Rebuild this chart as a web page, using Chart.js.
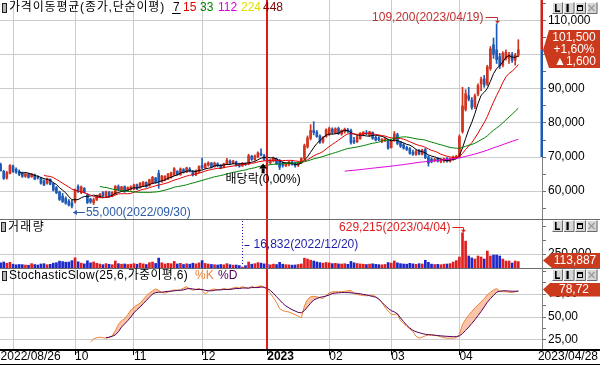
<!DOCTYPE html>
<html lang="ko"><head><meta charset="utf-8">
<script src="https://cdn.jsdelivr.net/npm/chart.js@4.4.1/dist/chart.umd.min.js"></script>
<style>
html,body{margin:0;padding:0;background:#fff;overflow:hidden}
#box{position:relative;width:600px;height:366px}
canvas{display:block}
</style></head><body>
<div id="box"><canvas id="cv" width="600" height="366"></canvas></div>
<script>
// ---------------- data ----------------
const dates = [
'2022/08/26','2022/08/29','2022/08/30','2022/08/31',
'2022/09/01','2022/09/02','2022/09/05','2022/09/06','2022/09/07','2022/09/08','2022/09/13','2022/09/14','2022/09/15','2022/09/16','2022/09/19','2022/09/20','2022/09/21','2022/09/22','2022/09/23','2022/09/26','2022/09/27','2022/09/28','2022/09/29','2022/09/30',
'2022/10/04','2022/10/05','2022/10/06','2022/10/07','2022/10/11','2022/10/12','2022/10/13','2022/10/14','2022/10/17','2022/10/18','2022/10/19','2022/10/20','2022/10/21','2022/10/24','2022/10/25','2022/10/26','2022/10/27','2022/10/28','2022/10/31',
'2022/11/01','2022/11/02','2022/11/03','2022/11/04','2022/11/07','2022/11/08','2022/11/09','2022/11/10','2022/11/11','2022/11/14','2022/11/15','2022/11/16','2022/11/17','2022/11/18','2022/11/21','2022/11/22','2022/11/23','2022/11/24','2022/11/25','2022/11/28','2022/11/29','2022/11/30',
'2022/12/01','2022/12/02','2022/12/05','2022/12/06','2022/12/07','2022/12/08','2022/12/09','2022/12/12','2022/12/13','2022/12/14','2022/12/15','2022/12/16','2022/12/19','2022/12/20','2022/12/21','2022/12/22','2022/12/23','2022/12/26','2022/12/27','2022/12/28','2022/12/29',
'2023/01/02','2023/01/03','2023/01/04','2023/01/05','2023/01/06','2023/01/09','2023/01/10','2023/01/11','2023/01/12','2023/01/13','2023/01/16','2023/01/17','2023/01/18','2023/01/19','2023/01/20','2023/01/25','2023/01/26','2023/01/27','2023/01/30','2023/01/31',
'2023/02/01','2023/02/02','2023/02/03','2023/02/06','2023/02/07','2023/02/08','2023/02/09','2023/02/10','2023/02/13','2023/02/14','2023/02/15','2023/02/16','2023/02/17','2023/02/20','2023/02/21','2023/02/22','2023/02/23','2023/02/24','2023/02/27','2023/02/28',
'2023/03/02','2023/03/03','2023/03/06','2023/03/07','2023/03/08','2023/03/09','2023/03/10','2023/03/13','2023/03/14','2023/03/15','2023/03/16','2023/03/17','2023/03/20','2023/03/21','2023/03/22','2023/03/23','2023/03/24','2023/03/27','2023/03/28','2023/03/29','2023/03/30','2023/03/31',
'2023/04/03','2023/04/04','2023/04/05','2023/04/06','2023/04/07','2023/04/10','2023/04/11','2023/04/12','2023/04/13','2023/04/14','2023/04/17','2023/04/18','2023/04/19','2023/04/20','2023/04/21','2023/04/24','2023/04/25','2023/04/26','2023/04/27','2023/04/28'];

const open = [
67800,65800,63800,65200,67400,66400,65800,65200,64300,65000,
64200,64800,64000,63700,63000,62300,63400,62200,61000,59700,
58500,57800,57000,56500,56800,61300,59500,60800,58800,57600,
56600,57400,58400,59500,58400,59600,58500,59200,61300,60300,
61300,60100,60500,60600,61800,61000,61500,62500,61600,62300,
63800,65200,62800,63300,63500,64000,64700,65800,64800,66300,
65600,66500,65800,64800,65600,67500,66800,67600,68200,67200,
68000,67600,67000,68000,68800,68300,68600,67800,67400,68000,
67900,70200,69200,70000,71000,70400,69200,68300,68800,69400,
69000,68000,67400,67800,68500,68200,67600,68300,69600,73000,
75500,77800,77300,76200,74500,76000,76600,78200,77000,78400,
76800,77500,78000,77800,74800,74500,75400,76800,77000,76400,
77200,75800,75600,74600,74800,75000,72800,75000,76600,74300,
73600,72800,72500,71400,70800,72000,70800,72200,70000,69400,
69000,69600,68600,69000,69600,68800,69300,69700,70000,77500,
84000,88000,86800,84800,88500,91500,93000,91500,96000,103000,
101500,99500,97000,99000,99000,100000,98500,100000];

const high = [
68200,66100,65800,67800,67600,66800,66200,65600,65300,65200,
65200,65000,64500,64000,63300,63800,63600,62400,61300,60000,
59300,58300,57500,57300,60600,61800,61500,61000,59200,57900,
57900,58800,59300,59800,60000,59900,59800,61600,61800,61400,
61500,61200,61500,62000,62000,62500,62800,62700,63500,64300,
64000,66100,64600,64500,65200,65600,66900,66000,66800,66600,
67000,66900,66000,66200,67400,69700,68200,68600,68400,68500,
68300,67800,68200,69600,69200,69000,68800,68200,68400,68300,
70800,70500,70600,71500,72400,70800,69800,69300,70000,69700,
69300,68600,68300,68700,68800,68400,68500,69800,73800,76200,
79500,80400,77800,76500,76000,78300,78800,78600,78600,78800,
78000,78500,78400,78200,75800,76300,77200,77500,77800,77600,
77400,76200,76000,75400,75600,75300,75000,77500,77000,74600,
74000,73200,72800,72000,72000,72200,72300,72500,70400,69800,
69600,69800,69500,69700,69800,69700,70300,70500,76500,90500,
89800,90500,87500,88500,91500,93500,94000,97000,102500,105000,
109200,100500,101000,101500,100800,100800,100500,104500];

const low = [
65800,63400,63500,65000,65500,65200,64500,64000,64000,63800,
64000,63300,63500,62000,61600,62000,61800,60000,59200,57200,
56600,56100,55600,55000,56500,59600,59200,59400,56300,56400,
56000,57200,58000,58300,58100,58100,58300,59000,60100,60000,
59600,59900,60200,60400,60400,60800,61300,61100,61400,62100,
62300,60800,62500,63000,63300,63800,64500,64600,64600,65300,
65400,65600,64400,64500,65400,66500,66600,67300,66800,67000,
67100,66500,66800,67800,67900,68000,67300,67000,67200,67500,
67700,69000,69000,69800,70300,69000,68000,68000,68600,67800,
66300,67000,67200,67400,67600,67000,67200,68100,69200,72600,
75000,76500,75800,74000,74100,75800,76300,76800,76800,76600,
76400,77000,77200,73800,73900,74200,75200,76200,76500,76000,
75200,74700,74800,74200,74500,72300,72600,74600,73600,72800,
72300,71900,70800,70500,70500,70600,70600,69500,67300,68300,
68600,68500,68300,68400,68500,68500,69000,69500,69800,77000,
83500,86500,84000,84200,88000,89500,90500,91000,95500,99000,
97500,96000,96500,98500,97500,97800,97000,99500];

const close = [
66000,63700,65400,67500,65700,65500,64800,64300,65000,64000,
65000,63500,63800,62300,61800,63600,62000,60300,59500,57500,
56900,56400,55900,55500,60300,59800,61200,59600,56600,56800,
57400,58600,59000,58500,59800,58300,59600,61400,60300,61200,
59800,61000,61300,61800,60600,62300,62600,61300,63300,64000,
62500,62800,64400,64300,65000,65400,66600,64800,66500,65600,
66800,65900,64700,65900,67200,66900,68000,68300,67000,68200,
67400,66800,68000,69000,68200,68800,67600,67300,68100,67800,
70400,69300,70300,71200,70600,69300,68400,69000,69600,68000,
67000,67600,68200,68500,67800,67500,68300,69600,73300,75600,
77800,77200,76000,74300,75800,78000,78400,77200,78300,76900,
77800,78200,77500,74200,74400,76000,77000,77300,76800,77400,
75500,75000,75100,75200,75300,72600,74600,76800,74000,73200,
72600,72200,71100,70800,71600,70900,72000,69800,68200,68600,
69300,68800,69200,69500,68700,69500,70000,70200,76000,85000,
88600,87000,84600,88000,91000,92800,91200,96500,101800,100200,
98600,96800,100500,100800,100200,98400,99900,101500];

const volume = [
93000,107000,83000,102000,68000,57000,63000,60000,53000,50000,
78000,62000,54000,72000,77000,59000,66000,87000,95000,123000,
114000,104000,107000,132000,182000,111000,87000,74000,129000,92000,
108000,83000,71000,60000,78000,66000,59000,125000,77000,68000,
72000,63000,69000,78000,66000,87000,74000,62000,95000,107000,
81000,177000,93000,71000,83000,77000,119000,72000,84000,63000,
75000,68000,86000,74000,92000,132000,81000,71000,63000,59000,
54000,62000,57000,78000,60000,50000,53000,44000,16832,41000,
107000,68000,77000,96000,87000,74000,65000,57000,69000,62000,
101000,68000,59000,56000,51000,54000,63000,72000,175000,160000,
140000,125000,108000,96000,87000,99000,92000,78000,83000,74000,
71000,77000,66000,117000,93000,80000,72000,68000,62000,69000,
75000,65000,60000,57000,63000,98000,87000,126000,92000,78000,
71000,68000,83000,74000,66000,77000,72000,138000,101000,69000,
62000,65000,59000,68000,71000,78000,107000,132000,196000,629215,
480000,214000,180000,160000,214000,196000,160000,304000,214000,232000,
232000,214000,160000,125000,125000,90000,125000,113887];

// StochasticSlow(25,6,WMA,6) lines (null before they start)
const stochK = [
null,null,null,null,null,null,null,null,null,null,
null,null,null,null,null,null,null,null,null,null,
null,null,null,null,null,null,null,null,null,23,
26,27.5,28,27.5,27,28,29.5,35,42,46,
48,52.5,57.5,60.5,63,65,69,73,76,78.5,
80.5,79,76.5,76,77,78.5,79.5,79,79.5,81.5,
83,80.5,79,80,81,79,75,78,80,80.5,
79.5,80,81,80,80.5,81.5,82.5,81.5,83,82,
81,83.5,82,83,84,82,79.5,76,71,66,
59,57,56,55.5,54,52.5,51,49,62,69,
72,72.5,72,71,70,73.5,76,77.5,77.5,77.5,
77.5,78,78.5,79,75.5,74.5,74,73.5,73,73.5,
74,72,69.5,66,60.5,56.5,53,52.5,53.5,46,
43,40,37,34,29,27,28,29.5,30.5,30.5,
30,29.5,28.5,27.5,27,27,27,27.5,31,42,
47.5,52,56,60,63,66.5,70,74,77,79.5,
81,78,77.5,77.5,77,76.5,77.5,78.72];
const stochD = [
null,null,null,null,null,null,null,null,null,null,
null,null,null,null,null,null,null,null,null,null,
null,null,null,null,null,null,null,null,null,null,
null,null,null,null,27.5,28,29,30.5,34,39,
42.5,46,50,54.5,58,61,64.5,68,71.5,75,
76.5,77,77,77.5,78,78,78.5,79,79,79.5,
80.5,81,80.5,80,80,80,79,78.5,78.5,79,
79.5,79.5,80,80,80,80.5,81,81,81.5,81.5,
81.5,82,82,82,82.5,82.5,81,79,75.7,72,
68.5,65,62,60,58,56.5,55,54.5,57,61,
65,68.5,70,71.4,72,72.8,74,75.5,76,76.3,
76.6,76.6,76.5,76.3,76,75.7,75.2,74.6,74,73.2,
72.3,71.6,69.5,66,62.5,59.5,57,55.5,53.5,49,
45,41,38,35.5,34,33,32,31.2,30.8,30.5,
30.2,29.8,29.5,29.2,29,28.8,28.6,28.6,29.5,32,
35.5,39,43,47,51.5,56,61,66,70,73.5,
77,78,78.5,78.5,78.2,78,78,78];

const maPeriods = [7, 15, 33, 112, 224, 448];
const tickIndex = [0, 4, 24, 43, 65, 86, 106, 126, 148];
const tickLabels = ['2022/08/26', '', '10', '11', '12', '2023', '02', '03', '04'];
const lastDateLabel = '2023/04/28';
const yearTick = 86;
const priceTicks = [55000,60000,65000,70000,75000,80000,85000,90000,95000,100000,105000,110000,115000];
const volumeTicks = [250000, 500000, 750000];
const volumeLabelTicks = [250000];
const stochTicks = [25, 37.5, 50, 62.5, 75, 87.5, 100];
const stochLabelTicks = [25, 50, 75];
const stochParams = [25, 6, 6];
const axisBandLow = 70000;
const exDividendDate = '2022/12/29';
const exDividendText = '배당락(0,00%)';

// ---------------- styles ----------------
const FONT = '12px "Liberation Sans", "DejaVu Sans", "Noto Sans CJK KR", sans-serif';
const maColors = ['#000000', '#e00000', '#008000', '#e000e0', '#e0e000', '#800000'];
const maLegendX = [173, 183, 200, 218, 241, 263];
const UP = '#d2321e', DN = '#1e5ab4', VUP = '#e01e1e', VDN = '#1e28c8';
const TAG = '#cc3a1e', GRID = '#cccccc', YEARLINE = '#e01818';
const KCOL = '#f08232', DCOL = '#50005a';

// ---------------- derived ----------------
const N = close.length;
const idx = close.map((_, i) => i);
const isUp = idx.map(i => close[i] >= open[i]);
function sma(n) {
  return idx.map(i => {
    if (i < n - 1) return null;
    let s = 0; for (let k = i - n + 1; k <= i; k++) s += close[k];
    return s / n;
  });
}
const fmt = v => Math.round(v).toString().replace(/\B(?=(\d{3})+(?!\d))/g, ',');
const pts = arr => arr.map((v, i) => ({x: i, y: v}));

const datasets = [];
datasets.push({type: 'bar', data: idx.map(i => ({x: i, y: [low[i], high[i]]})),
  backgroundColor: idx.map(i => isUp[i] ? UP : DN), barThickness: 1, grouped: false, yAxisID: 'yP', order: 20});
datasets.push({type: 'bar', data: idx.map(i => ({x: i, y: [Math.min(open[i], close[i]), Math.max(open[i], close[i])]})),
  backgroundColor: idx.map(i => isUp[i] ? UP : DN), barThickness: 2, minBarLength: 1, grouped: false, yAxisID: 'yP', order: 19});
maPeriods.forEach((p, k) => datasets.push({type: 'line', data: pts(sma(p)), borderColor: maColors[k], borderWidth: 1,
  pointRadius: 0, tension: 0, fill: false, yAxisID: 'yP', order: 10 - k}));
datasets.push({type: 'bar', data: idx.map(i => ({x: i, y: volume[i]})),
  backgroundColor: idx.map(i => isUp[i] ? VUP : VDN), barThickness: 2, grouped: false, yAxisID: 'yV', order: 18});
const dIndex = datasets.length + 1;
datasets.push({type: 'line', data: pts(stochK), borderColor: KCOL, borderWidth: 1, pointRadius: 0, tension: 0,
  fill: {target: dIndex, above: 'rgba(245,150,100,0.55)', below: 'rgba(0,0,0,0)'}, yAxisID: 'yS', order: 2});
datasets.push({type: 'line', data: pts(stochD), borderColor: DCOL, borderWidth: 1, pointRadius: 0, tension: 0,
  fill: false, yAxisID: 'yS', order: 1});

// ---------------- overlay drawing helpers ----------------
function txt(c, s, x, y, color, align, targetW) {
  c.font = FONT; c.fillStyle = color; c.textAlign = align || 'left'; c.textBaseline = 'middle';
  if (targetW && 'letterSpacing' in c) {
    const w0 = c.measureText(s).width;
    const ls = Math.max(0, (targetW - w0) / Math.max(1, s.length));
    c.letterSpacing = ls.toFixed(2) + 'px';
    c.fillText(s, x, y);
    const w = c.measureText(s).width;
    c.letterSpacing = '0px';
    return w;
  }
  c.fillText(s, x, y); return c.measureText(s).width;
}
function icon(c, x, y) {
  c.fillStyle = '#202020'; c.fillRect(x, y, 5, 10);
  c.fillStyle = '#b4b4b4'; c.fillRect(x + 1, y + 1, 3, 8);
}
function buttons(c, y) {
  for (let k = 0; k < 4; k++) {
    const x = 552 + k * 11.5;
    c.fillStyle = '#d6d6d6'; c.fillRect(x, y, 11, 12);
    c.lineWidth = 1;
    c.strokeStyle = '#ffffff'; c.beginPath(); c.moveTo(x + 0.5, y + 11.5); c.lineTo(x + 0.5, y + 0.5); c.lineTo(x + 10.5, y + 0.5); c.stroke();
    c.strokeStyle = '#6a6a6a'; c.beginPath(); c.moveTo(x + 10.5, y + 0.5); c.lineTo(x + 10.5, y + 11.5); c.lineTo(x + 0.5, y + 11.5); c.stroke();
  }
  c.fillStyle = '#000';
  c.fillRect(555, y + 2, 1.6, 8); c.fillRect(555, y + 8.4, 5, 1.6);
  c.fillRect(566.5, y + 2, 2.2, 8);
  c.strokeStyle = '#000'; c.strokeRect(577.5, y + 3.5, 5, 5); c.fillRect(577, y + 3, 6, 2);
  c.strokeStyle = '#9a9a9a'; c.lineWidth = 1.3; c.beginPath();
  c.moveTo(588.5, y + 3); c.lineTo(594.5, y + 9); c.moveTo(594.5, y + 3); c.lineTo(588.5, y + 9); c.stroke();
}
function tag(c, yc, top, bot, left) {
  c.fillStyle = TAG; c.beginPath();
  c.moveTo(left, top); c.lineTo(600, top); c.lineTo(600, bot); c.lineTo(left, bot); c.lineTo(543, yc); c.closePath(); c.fill();
}
function triDown(c, x, y, color) { c.fillStyle = color; c.beginPath(); c.moveTo(x - 2.5, y - 3); c.lineTo(x + 2.5, y - 3); c.lineTo(x, y); c.closePath(); c.fill(); }

const yearLine = {
  id: 'yearLine',
  afterDatasetsDraw(chart) {
    const c = chart.ctx, xs = chart.scales.x, a = chart.chartArea;
    const px = 2 * Math.floor(xs.getPixelForValue(yearTick) / 2);
    c.save();
    c.fillStyle = YEARLINE;
    c.fillRect(px, a.top, 2, a.bottom - a.top);
    c.restore();
  }
};

const overlay = {
  id: 'overlay',
  afterDraw(chart) {
    const c = chart.ctx, xs = chart.scales.x, yP = chart.scales.yP, yV = chart.scales.yV, yS = chart.scales.yS;
    const last = N - 1;
    c.save();
    c.fillStyle = '#6a6a6a';
    c.fillRect(0, Math.round(yP.bottom), 600, 1);
    c.fillRect(0, Math.round(yV.bottom), 600, 1);
    c.fillStyle = '#000';
    c.fillRect(0, Math.round(yS.bottom), 600, 2);
    c.fillRect(0, 364, 600, 1);
    txt(c, lastDateLabel, 598, 356.5, '#000', 'right');

    // legends
    icon(c, 2, 3);
    txt(c, '가격이동평균(종가,단순이평)', 9, 8, '#000', 'left', 156);
    maPeriods.forEach((p, k) => {
      const w = txt(c, String(p), maLegendX[k], 8, maColors[k]);
      if (k === 0) { c.fillStyle = '#000'; c.fillRect(maLegendX[k] - 1, 13, w + 2, 1); }
    });
    icon(c, 1, 222);
    txt(c, '거래량', 8, 227.5, '#000', 'left', 37);
    icon(c, 2, 271);
    txt(c, 'StochasticSlow(' + stochParams[0] + ',' + stochParams[1] + ',가중이평,' + stochParams[2] + ')', 9, 276, '#000', 'left', 179);
    txt(c, '%K', 195, 276, KCOL);
    txt(c, '%D', 218, 276, DCOL);

    // highest high note
    let iH = 0; high.forEach((v, i) => { if (v > high[iH]) iH = i; });
    const xh = Math.round(xs.getPixelForValue(iH)) + 0.5, yh = yP.getPixelForValue(high[iH]);
    const ay = Math.round(yh - 6.5) + 0.5;
    c.strokeStyle = '#be3232'; c.lineWidth = 1; c.beginPath();
    c.moveTo(xh - 12, ay); c.lineTo(xh, ay); c.lineTo(xh, yh - 2); c.stroke();
    triDown(c, xh, yh, '#be3232');
    txt(c, fmt(high[iH]) + '(' + dates[iH] + ')', xh - 14, ay, '#be3232', 'right');

    // lowest low note
    let iL = 0; low.forEach((v, i) => { if (v < low[iL]) iL = i; });
    const xl = xs.getPixelForValue(iL), yl = Math.round(yP.getPixelForValue(low[iL]) + 3.5) + 0.5;
    c.strokeStyle = '#2a5aaa'; c.beginPath(); c.moveTo(xl + 2, yl); c.lineTo(xl + 13, yl); c.stroke();
    c.fillStyle = '#2a5aaa'; c.beginPath(); c.moveTo(xl + 1, yl); c.lineTo(xl + 5, yl - 2.5); c.lineTo(xl + 5, yl + 2.5); c.closePath(); c.fill();
    txt(c, fmt(low[iL]) + '(' + dates[iL] + ')', xl + 14, yl, '#2a5aaa');

    // ex-dividend marker
    const iD = dates.indexOf(exDividendDate);
    const xd = xs.getPixelForValue(iD) - 1, yd = yP.getPixelForValue(low[iD]) + 3;
    c.fillStyle = '#000'; c.beginPath(); c.moveTo(xd, yd); c.lineTo(xd - 4, yd + 5); c.lineTo(xd + 4, yd + 5); c.closePath(); c.fill();
    c.fillRect(xd - 1.5, yd + 5, 3, 5);
    txt(c, exDividendText, xd, yd + 16, '#000', 'center');

    // volume max note
    let iV = 0; volume.forEach((v, i) => { if (v > volume[iV]) iV = i; });
    const xv = Math.round(xs.getPixelForValue(iV)) + 0.5, yvt = yV.getPixelForValue(volume[iV]);
    const vy = Math.round(yvt - 5.3) + 0.5;
    c.strokeStyle = '#e01e1e'; c.beginPath(); c.moveTo(xv - 11, vy); c.lineTo(xv, vy); c.lineTo(xv, yvt - 2); c.stroke();
    triDown(c, xv, yvt, '#e01e1e');
    txt(c, fmt(volume[iV]) + '(' + dates[iV] + ')', xv - 13, vy, '#e01e1e', 'right');

    // volume min note
    let iM = 0; volume.forEach((v, i) => { if (v < volume[iM]) iM = i; });
    const xm = Math.round(xs.getPixelForValue(iM)) + 0.5;
    c.strokeStyle = '#1e1eaa'; c.setLineDash([1, 2]); c.beginPath();
    c.moveTo(xm, yV.top + 2); c.lineTo(xm, yV.getPixelForValue(volume[iM]) - 1); c.stroke(); c.setLineDash([]);
    c.beginPath(); c.moveTo(xm + 2, 245.5); c.lineTo(xm + 7, 245.5); c.stroke();
    txt(c, fmt(volume[iM]) + '(' + dates[iM] + ')', xm + 11, 245, '#1e1eaa');

    // right axis band + tags
    const yc = yP.getPixelForValue(close[last]);
    c.fillStyle = '#d02020'; c.fillRect(540.5, yP.top, 2.5, yc - yP.top);
    c.fillStyle = '#1e5ab4'; c.fillRect(540.5, yc, 2.5, yP.getPixelForValue(axisBandLow) - yc);
    tag(c, yc, yc - 20, yc + 18, 549);
    const chg = close[last] - close[last - 1];
    const pct = (chg / close[last - 1] * 100).toFixed(2).replace('.', ',');
    txt(c, fmt(close[last]), 574, yc - 12.5, '#fff', 'center');
    txt(c, (chg >= 0 ? '+' : '') + pct + '%', 574, yc - 0.5, '#fff', 'center');
    txt(c, (chg >= 0 ? '▲' : '▼') + fmt(Math.abs(chg)), 575, yc + 11.5, '#fff', 'center');

    const ycv = yV.getPixelForValue(volume[last]);
    tag(c, ycv - 1, ycv - 8.5, Math.min(ycv + 6.5, yV.bottom), 552);
    txt(c, fmt(volume[last]), 575, ycv - 1, '#fff', 'center');
    const kLast = stochK[last];
    const ycs = yS.getPixelForValue(kLast);
    tag(c, ycs - 1, ycs - 7.5, ycs + 6, 550);
    txt(c, kLast.toFixed(2).replace('.', ','), 574, ycs - 1, '#fff', 'center');

    buttons(c, 2);
    buttons(c, Math.round(yV.top) + 1);
    buttons(c, Math.round(yS.top) + 1);
    c.restore();
  }
};

// ---------------- chart ----------------
const yCommon = (labelFn, gridFn) => ({
  type: 'linear', position: 'right', stack: 'panes',
  afterFit: s => { s.width = 58; s.paddingTop = 0; s.paddingBottom = 0; },
  ticks: {color: '#000', font: {family: 'Liberation Sans', size: 12}, padding: 2, callback: labelFn, autoSkip: false},
  grid: {color: gridFn, tickLength: 4, tickColor: '#707070', lineWidth: 1},
  border: {display: true, color: '#808080'}
});

new Chart(document.getElementById('cv'), {
  type: 'bar',
  data: {datasets},
  plugins: [yearLine, overlay],
  options: {
    responsive: false, animation: false, devicePixelRatio: 1, events: [],
    layout: {padding: 0, autoPadding: false},
    plugins: {legend: {display: false}, tooltip: {enabled: false}},
    scales: {
      x: {
        type: 'linear', position: 'bottom', min: -0.2, max: 174.64, bounds: 'data', offset: false,
        afterBuildTicks: s => { s.ticks = tickIndex.map(v => ({value: v})); },
        afterFit: s => { s.height = 17; s.paddingLeft = 0; s.paddingRight = 0; },
        ticks: {
          autoSkip: false, maxRotation: 0, minRotation: 0, align: 'start', padding: -6, color: '#000',
          font: ctx => ({family: 'Liberation Sans', size: 12, weight: (ctx.tick && ctx.tick.value === yearTick) ? 'bold' : 'normal'}),
          callback: v => { const k = tickIndex.indexOf(v); return k < 0 ? '' : tickLabels[k]; }
        },
        grid: {
          offset: false,
          color: ctx => (ctx.tick && (ctx.tick.value === 0 || ctx.tick.value === yearTick)) ? 'rgba(0,0,0,0)' : GRID,
          lineWidth: 1, tickLength: 6,
          tickColor: ctx => (ctx.tick && (ctx.tick.value === 0 || ctx.tick.value === 4)) ? 'rgba(0,0,0,0)' : '#000'
        },
        border: {display: false}
      },
      yP: Object.assign(yCommon(v => v % 10000 === 0 ? fmt(v) : '', ctx => (ctx.tick && ctx.tick.value % 10000 === 0) ? GRID : 'rgba(0,0,0,0)'),
        {stackWeight: 219, weight: 1, min: 51765, max: 116176, afterBuildTicks: s => { s.ticks = priceTicks.map(v => ({value: v})); }}),
      yV: Object.assign(yCommon(v => volumeLabelTicks.includes(v) ? fmt(v) : '', ctx => (ctx.tick && volumeLabelTicks.includes(ctx.tick.value)) ? GRID : 'rgba(0,0,0,0)'),
        {stackWeight: 49, weight: 2, min: 0, max: 875000, afterBuildTicks: s => { s.ticks = volumeTicks.map(v => ({value: v})); }}),
      yS: Object.assign(yCommon(v => stochLabelTicks.includes(v) ? v.toFixed(2).replace('.', ',') : '', ctx => (ctx.tick && stochLabelTicks.includes(ctx.tick.value)) ? GRID : 'rgba(0,0,0,0)'),
        {stackWeight: 81, weight: 3, min: 15.2, max: 103.3, afterBuildTicks: s => { s.ticks = stochTicks.map(v => ({value: v})); }})
    }
  }
});
</script>
</body></html>
